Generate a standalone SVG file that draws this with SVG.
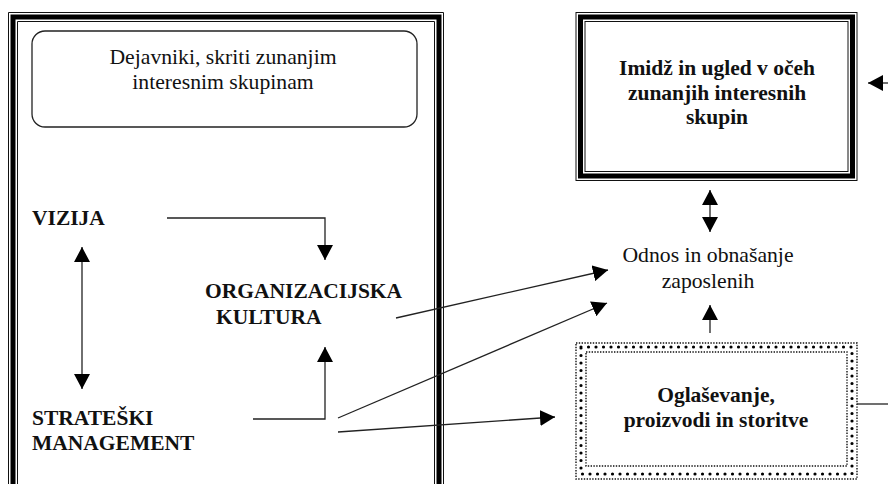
<svg xmlns="http://www.w3.org/2000/svg" width="888" height="484" viewBox="0 0 888 484">
<style>
.reg{font-family:"Liberation Serif","Times New Roman",serif;font-size:21.7px;fill:#111}
.bold{font-family:"Liberation Serif","Times New Roman",serif;font-size:21.5px;font-weight:bold;fill:#111}
.con{fill:none;stroke:#222;stroke-width:1.3}
.thin{fill:none;stroke:#111;stroke-width:1}
.thick{fill:none;stroke:#000;stroke-width:5}
.dsm{fill:none;stroke:#111;stroke-width:1.4;stroke-dasharray:1.4 1.4}
.dbig{fill:none;stroke:#000;stroke-width:3.2;stroke-linecap:round;stroke-dasharray:0 7.5}
</style>
<defs>
<marker id="ah" markerUnits="userSpaceOnUse" markerWidth="16" markerHeight="16" refX="15" refY="8" orient="auto-start-reverse" viewBox="0 0 16 16">
<path d="M0,0 L15,8 L0,16 z" fill="#000"/>
</marker>
</defs>
<rect width="888" height="484" fill="#fff"/>

<g id="left-panel">
<path class="thin" d="M8.5,490 V12.5 H443.5 V490"/>
<path class="thick" d="M13,490 V17 H439 V490"/>
<path class="thin" d="M17.5,490 V21.5 H434.5 V490"/>
</g>

<g id="hidden-factors">
<rect x="32" y="31" width="385" height="96" rx="13" ry="13" fill="#fff" stroke="#222" stroke-width="1.3"/>
<text class="reg" x="223" y="64" text-anchor="middle">Dejavniki, skriti zunanjim</text>
<text class="reg" x="223" y="89" text-anchor="middle">interesnim skupinam</text>
</g>

<g id="vizija">
<text class="bold" x="32" y="225">VIZIJA</text>
</g>

<g id="org-kultura">
<text class="bold" x="205" y="298">ORGANIZACIJSKA</text>
<text class="bold" x="216" y="324">KULTURA</text>
</g>

<g id="strateski">
<text class="bold" x="32" y="425">STRATEŠKI</text>
<text class="bold" x="32" y="450">MANAGEMENT</text>
</g>

<g id="imidz">
<rect class="thin" x="576" y="12.5" width="281" height="168"/>
<rect class="thick" x="580.5" y="17" width="272" height="159"/>
<rect class="thin" x="585" y="21.5" width="263" height="150"/>
<text class="bold" x="717" y="75" text-anchor="middle">Imidž in ugled v očeh</text>
<text class="bold" x="717" y="100" text-anchor="middle">zunanjih interesnih</text>
<text class="bold" x="717" y="124" text-anchor="middle">skupin</text>
</g>

<g id="odnos">
<text class="reg" x="708" y="262" text-anchor="middle">Odnos in obnašanje</text>
<text class="reg" x="708" y="288" text-anchor="middle">zaposlenih</text>
</g>

<g id="oglasevanje">
<rect class="dsm" x="576" y="343" width="281" height="136"/>
<rect class="dbig" x="581" y="347" width="271" height="127"/>
<rect class="dsm" x="586" y="352" width="261" height="114"/>
<text class="bold" x="716" y="402" text-anchor="middle">Oglaševanje,</text>
<text class="bold" x="716" y="427" text-anchor="middle">proizvodi in storitve</text>
</g>

<g id="connectors">
<path class="con" d="M167,218 H325 V260" marker-end="url(#ah)"/>
<path class="con" d="M82,247 V389" marker-start="url(#ah)" marker-end="url(#ah)"/>
<path class="con" d="M253,419 H325 V347" marker-end="url(#ah)"/>
<path class="con" d="M396,318 L608,270" marker-end="url(#ah)"/>
<path class="con" d="M338,418 L607,303" marker-end="url(#ah)"/>
<path class="con" d="M338,432 L555,417" marker-end="url(#ah)"/>
<path class="con" d="M710,333 V305" marker-end="url(#ah)"/>
<path class="con" d="M710,190 V232" marker-start="url(#ah)" marker-end="url(#ah)"/>
<path class="con" d="M890,83 H868" marker-end="url(#ah)"/>
<path class="con" d="M857,404 H888"/>
</g>
</svg>
